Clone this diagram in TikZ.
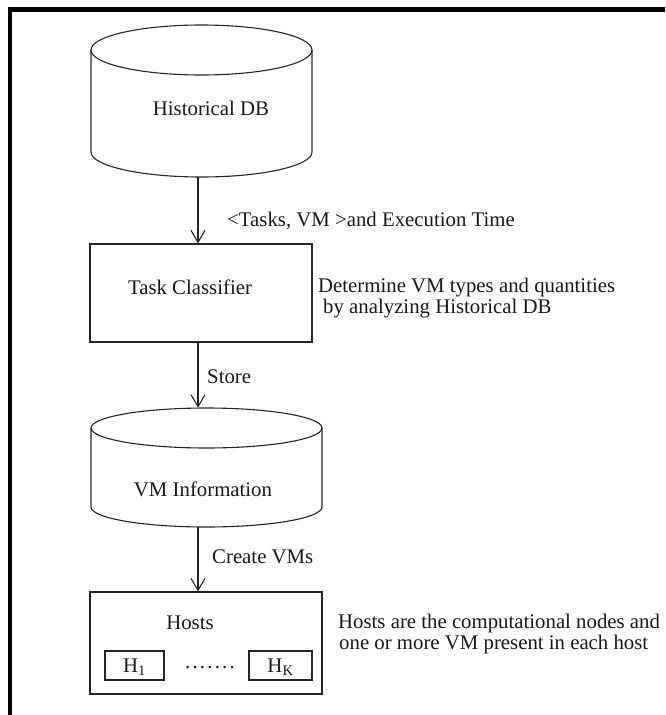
\documentclass[tikz,border=0pt]{standalone}
\usepackage{fontspec}
\setmainfont{Liberation Serif}
\usetikzlibrary{arrows.meta}
\tikzset{
  ln/.style={line width=1.1pt, draw=black!85},
  boxnode/.style={ln, draw, rectangle, inner sep=0pt},
  ghost/.style={rectangle, inner sep=0pt},
  txt/.style={inner sep=0pt, font=\fontsize{20.8}{21.5}\selectfont, text=black!90},
  flow/.style={ln, -{Straight Barb[length=12pt,width=14pt,line width=1.1pt]}},
}
\begin{document}
\begin{tikzpicture}[x=1pt,y=1pt]
\useasboundingbox (0,0) rectangle (665,-715);
% frame
\fill[black] (8,-7) rectangle (665,-12);
\fill[black] (8,-7) rectangle (12,-715);

% Historical DB cylinder
\node[ghost, minimum width=221pt, minimum height=152pt] (hdb) at (201.5,-101) {};
\draw[ln] (91,-50) arc[start angle=180, end angle=540, x radius=110.5, y radius=25];
\draw[ln] (91,-50) -- (91,-152) arc[start angle=180, end angle=360, x radius=110.5, y radius=25] -- (312,-50);
\node[txt] (hdbt) at (211,-108) {Historical DB};

% Task classifier
\node[boxnode, minimum width=222pt, minimum height=98pt] (tc) at (201,-293) {};
\node[txt] (tct) at (190,-287) {Task Classifier};

% VM information cylinder
\node[ghost, minimum width=231pt, minimum height=119pt] (vmi) at (206.5,-467.5) {};
\draw[ln] (91,-428) arc[start angle=180, end angle=540, x radius=115.5, y radius=20];
\draw[ln] (91,-428) -- (91,-507) arc[start angle=180, end angle=360, x radius=115.5, y radius=20] -- (322,-428);
\node[txt] (vmit) at (203,-489) {VM Information};

% Hosts
\node[boxnode, minimum width=232pt, minimum height=102pt] (hosts) at (206,-643) {};
\node[txt] (hostst) at (190,-623) {Hosts};
\node[boxnode, minimum width=59pt, minimum height=29pt] (h1) at (134.5,-665.5) {};
\node[txt] (h1t) at (134.5,-667) {H\textsubscript{1}};
\node[boxnode, minimum width=63pt, minimum height=29pt] (hk) at (280.5,-665.5) {};
\node[txt] (hkt) at (280.5,-667) {H\textsubscript{K}};
\node[txt] (dots) at (210,-668) {.\kern2.2pt.\kern2.2pt.\kern2.2pt.\kern2.2pt.\kern2.2pt.\kern2.2pt.};

% column for arrows
\coordinate (col) at (198,0);
\draw[flow] (hdb.south -| col) -- (tc.north -| col);
\draw[flow] (tc.south -| col) -- (vmi.north -| col);
\draw[flow] (vmi.south -| col) -- (hosts.north -| col);

% labels
\node[txt, anchor=west] (l1) at (227,-221) {<Tasks, VM >and Execution Time};
\node[txt, anchor=west] (l2) at (207,-377) {Store};
\node[txt, anchor=west] (l3) at (212,-557) {Create VMs};
\node[txt, anchor=west, align=left] (n1) at (318,-298) {Determine VM types and quantities\\\hspace{5pt}by analyzing Historical DB};
\node[txt, anchor=west, align=left] (n2) at (338,-634) {Hosts are the computational nodes and\\\hspace{1pt}one or more VM present in each host};
\end{tikzpicture}
\end{document}
